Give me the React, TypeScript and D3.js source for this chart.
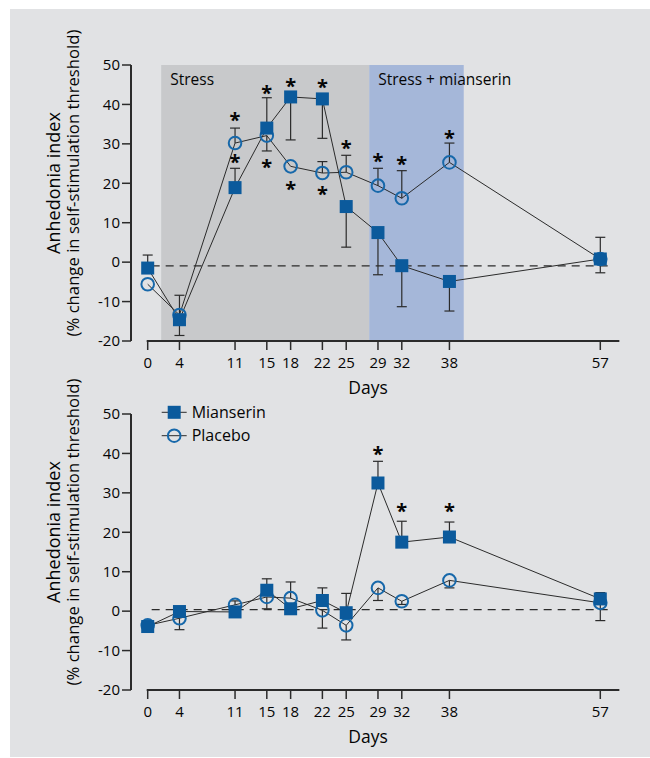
import * as d3 from "d3";

const DAYS = [0, 4, 11, 15, 18, 22, 25, 29, 32, 38, 57];
const Y_TICKS = [50, 40, 30, 20, 10, 0, -10, -20];

// upper panel: stress, then stress + mianserin
const TOP_MIANSERIN = [-1.5, -14.6, 18.9, 34.0, 41.9, 41.4, 14.1, 7.5, -0.9, -4.9, 0.8];
const TOP_MIANSERIN_ERR = [3.3, 4.0, 4.9, 7.7, 10.9, 10.0, 10.3, 10.7, 10.4, 7.5, 3.5];
const TOP_MIANSERIN_DIR = [1, -1, 1, 1, -1, -1, -1, -1, -1, -1, -1];
const TOP_PLACEBO = [-5.6, -13.4, 30.2, 32.1, 24.3, 22.6, 22.8, 19.4, 16.2, 25.3, 0.8];
const TOP_PLACEBO_ERR = [0, 5.0, 3.8, 3.9, 0, 2.9, 4.3, 4.4, 7.0, 4.9, 5.5];
const TOP_PLACEBO_DIR = [-1, 1, 1, -1, 1, 1, 1, 1, 1, 1, 1];
const TOP_STAR_DAYS = [11, 11, 15, 15, 18, 18, 22, 22, 25, 29, 32, 38];
const TOP_STAR_VALUES = [37.1, 26.4, 43.9, 25.1, 45.7, 19.6, 45.4, 18.3, 29.9, 26.6, 26.0, 32.5];
const TOP_BASELINE = -0.95;

// lower panel: no stress
const BOT_MIANSERIN = [-3.9, -0.1, -0.2, 5.3, 0.6, 2.7, -0.4, 32.5, 17.5, 18.8, 3.1];
const BOT_MIANSERIN_ERR = [0, 0, 0, 2.9, 0, 3.2, 4.9, 5.5, 5.3, 3.8, 1.6];
const BOT_MIANSERIN_DIR = [1, 1, 1, 1, 1, 1, 1, 1, 1, 1, 1];
const BOT_PLACEBO = [-3.6, -1.8, 1.6, 3.6, 3.3, 0.2, -3.6, 5.9, 2.5, 7.8, 2.1];
const BOT_PLACEBO_ERR = [0, 2.9, 1.0, 3.0, 4.1, 4.5, 3.7, 3.2, 0.8, 1.9, 4.5];
const BOT_PLACEBO_DIR = [-1, -1, 1, -1, 1, -1, -1, -1, -1, -1, -1];
const BOT_STAR_DAYS = [29, 32, 38];
const BOT_STAR_VALUES = [40.8, 26.4, 26.4];
const BOT_BASELINE = 0.4;

// phases, in days
const STRESS = [1.7, 27.9];
const STRESS_MIANSERIN = [27.9, 39.8];

const FONT = "'Open Sans', 'Noto Sans', sans-serif";
const INK = "#2b2b2b";
const TEXT = "#050505";
const BLUE = "#0b5a9c";
const CIRCLE_BLUE = "#1768aa";

const xScale = d3.scaleLinear().domain([0, 57]).range([147.7, 600.3]);

function Panel(props) {
  const top = props.top;
  const y = d3.scaleLinear().domain([-20, 50]).range([top + 276, top]);
  const line = d3
    .line()
    .x((d) => xScale(d[0]))
    .y((d) => y(d[1]));
  const mPts = DAYS.map((d, i) => [d, props.mianserin[i]]);
  const pPts = DAYS.map((d, i) => [d, props.placebo[i]]);
  const axisY = 131;
  const bottom = y(-20);

  const errBars = (vals, errs, dirs, key) =>
    DAYS.map((d, i) => {
      if (!errs[i]) return null;
      const x = xScale(d);
      const y0 = y(vals[i]);
      const y1 = y(vals[i] + dirs[i] * errs[i]);
      return (
        <g key={key + i} stroke={INK} strokeWidth={1.2}>
          <line x1={x} x2={x} y1={y0} y2={y1} />
          <line x1={x - 5} x2={x + 5} y1={y1} y2={y1} />
        </g>
      );
    });

  return (
    <g fontFamily={FONT}>
      {props.shading && (
        <g>
          <rect
            x={xScale(STRESS[0])}
            width={xScale(STRESS[1]) - xScale(STRESS[0])}
            y={y(50)}
            height={bottom - y(50)}
            fill="#c8c9cb"
          />
          <rect
            x={xScale(STRESS_MIANSERIN[0])}
            width={xScale(STRESS_MIANSERIN[1]) - xScale(STRESS_MIANSERIN[0])}
            y={y(50)}
            height={bottom - y(50)}
            fill="#a5b7d9"
          />
          <text x={xScale(STRESS[0]) + 9} y={top + 20} fontSize={15.5} fill={TEXT}>
            Stress
          </text>
          <text x={xScale(STRESS_MIANSERIN[0]) + 9} y={top + 20} fontSize={15.5} fill={TEXT}>
            Stress + mianserin
          </text>
        </g>
      )}

      {/* baseline */}
      <line
        x1={xScale(0.5)}
        x2={xScale(58.2)}
        y1={y(props.baseline)}
        y2={y(props.baseline)}
        stroke={INK}
        strokeWidth={1.2}
        strokeDasharray="8,6"
      />

      {/* y axis */}
      <line x1={axisY} x2={axisY} y1={y(50)} y2={bottom} stroke={INK} strokeWidth={2} />
      {Y_TICKS.map((t) => (
        <g key={t}>
          <line x1={axisY - 9} x2={axisY} y1={y(t)} y2={y(t)} stroke={INK} strokeWidth={1.5} />
          <text
            x={axisY - 11}
            y={y(t)}
            dy="0.35em"
            textAnchor="end"
            fontSize={15}
            fill={TEXT}
          >
            {t}
          </text>
        </g>
      ))}

      {/* x axis */}
      <line x1={xScale(0) - 1} x2={xScale(59.4)} y1={bottom} y2={bottom} stroke={INK} strokeWidth={2} />
      {DAYS.map((d) => (
        <g key={d}>
          <line x1={xScale(d)} x2={xScale(d)} y1={bottom} y2={bottom + 9} stroke={INK} strokeWidth={1.5} />
          <text x={xScale(d)} y={bottom + 22} dy="0.35em" textAnchor="middle" fontSize={15} fill={TEXT}>
            {d}
          </text>
        </g>
      ))}
      <text x={368} y={bottom + 47} dy="0.35em" textAnchor="middle" fontSize={17.5} fill={TEXT}>
        Days
      </text>

      {/* y title */}
      <g transform={`translate(0, ${(y(50) + bottom) / 2 - 20}) rotate(-90)`}>
        <text x={0} y={60} textAnchor="middle" fontSize={18} fill={TEXT}>
          Anhedonia index
        </text>
        <text x={0} y={79} textAnchor="middle" fontSize={16.7} fill={TEXT}>
          (% change in self-stimulation threshold)
        </text>
      </g>

      {/* series */}
      <path d={line(pPts)} fill="none" stroke={INK} strokeWidth={1} />
      <path d={line(mPts)} fill="none" stroke={INK} strokeWidth={1} />
      {errBars(props.placebo, props.placeboErr, props.placeboDir, "p")}
      {errBars(props.mianserin, props.mianserinErr, props.mianserinDir, "m")}
      {pPts.map((p, i) => (
        <circle key={i} cx={xScale(p[0])} cy={y(p[1])} r={6.3} fill="none" stroke={CIRCLE_BLUE} strokeWidth={2} />
      ))}
      {mPts.map((p, i) => (
        <rect key={i} x={xScale(p[0]) - 6.5} y={y(p[1]) - 6.5} width={13} height={13} fill={BLUE} />
      ))}

      {/* significance */}
      {props.starDays.map((d, i) => (
        <text
          key={i}
          x={xScale(d)}
          y={y(props.starValues[i]) + 11}
          textAnchor="middle"
          fontSize={20}
          fontWeight="bold"
          fill={TEXT}
        >
          *
        </text>
      ))}

      {props.legend && (
        <g>
          <line x1={161.7} x2={186.7} y1={top - 1.7} y2={top - 1.7} stroke={INK} strokeWidth={1} />
          <rect x={174.2 - 6.5} y={top - 1.7 - 6.5} width={13} height={13} fill={BLUE} />
          <text x={191.7} y={top - 1.7} dy="0.35em" fontSize={16} fill={TEXT}>
            Mianserin
          </text>
          <line x1={161.7} x2={186.7} y1={top + 21.7} y2={top + 21.7} stroke={INK} strokeWidth={1} />
          <circle cx={174.2} cy={top + 21.7} r={6.3} fill="none" stroke={CIRCLE_BLUE} strokeWidth={2} />
          <text x={191.7} y={top + 21.7} dy="0.35em" fontSize={16} fill={TEXT}>
            Placebo
          </text>
        </g>
      )}
    </g>
  );
}

export default function App() {
  return (
    <svg
      width={650}
      height={758}
      style={{ position: "absolute", left: 0, top: 0, background: "#fff" }}
    >
      <rect x={10} y={9} width={640} height={748} fill="#e1e2e4" />
      <Panel
        top={65}
        shading
        mianserin={TOP_MIANSERIN}
        mianserinErr={TOP_MIANSERIN_ERR}
        mianserinDir={TOP_MIANSERIN_DIR}
        placebo={TOP_PLACEBO}
        placeboErr={TOP_PLACEBO_ERR}
        placeboDir={TOP_PLACEBO_DIR}
        starDays={TOP_STAR_DAYS}
        starValues={TOP_STAR_VALUES}
        baseline={TOP_BASELINE}
      />
      <Panel
        top={414}
        legend
        mianserin={BOT_MIANSERIN}
        mianserinErr={BOT_MIANSERIN_ERR}
        mianserinDir={BOT_MIANSERIN_DIR}
        placebo={BOT_PLACEBO}
        placeboErr={BOT_PLACEBO_ERR}
        placeboDir={BOT_PLACEBO_DIR}
        starDays={BOT_STAR_DAYS}
        starValues={BOT_STAR_VALUES}
        baseline={BOT_BASELINE}
      />
    </svg>
  );
}
